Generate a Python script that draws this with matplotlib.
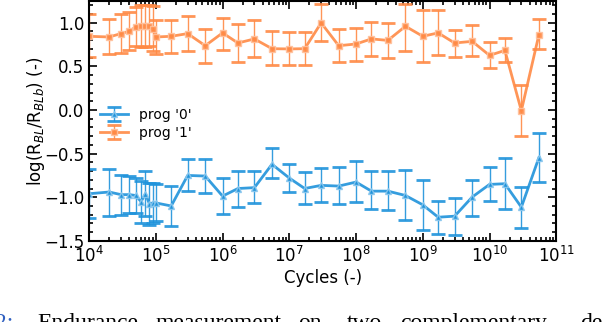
import numpy as np
import matplotlib.pyplot as plt
from matplotlib.ticker import MultipleLocator, LogLocator, NullFormatter

# cycles at which each state was measured
cycles = [1e4, 2e4, 3e4, 4e4, 5e4, 6e4, 7e4, 8e4, 9e4, 1e5,
          1.7e5, 3e5, 5.5e5, 1e6, 1.7e6, 3e6, 5.5e6, 1e7, 1.7e7, 3e7,
          5.5e7, 1e8, 1.7e8, 3e8, 5.5e8, 1e9, 1.7e9, 3e9, 5.5e9, 1e10,
          1.7e10, 3e10, 5.5e10]

# prog '0'
prog0 = [-0.96, -0.94, -0.97, -0.97, -0.98, -1.05, -0.96, -1.075, -1.065, -1.065,
         -1.10, -0.75, -0.757, -0.987, -0.90, -0.89, -0.622, -0.78, -0.90, -0.864,
         -0.872, -0.826, -0.93, -0.93, -0.98, -1.087, -1.229, -1.217, -0.998, -0.853,
         -0.845, -1.114, -0.545]
prog0_hi = [0.28, 0.26, 0.22, 0.21, 0.205, 0.24, 0.26, 0.235, 0.225, 0.22,
            0.23, 0.185, 0.20, 0.21, 0.20, 0.19, 0.19, 0.16, 0.19, 0.20,
            0.22, 0.24, 0.23, 0.23, 0.29, 0.29, 0.19, 0.21, 0.20, 0.20,
            0.30, 0.23, 0.28]
prog0_lo = [0.28, 0.27, 0.23, 0.21, 0.20, 0.24, 0.26, 0.245, 0.225, 0.21,
            0.225, 0.18, 0.19, 0.21, 0.21, 0.18, 0.16, 0.16, 0.175, 0.19,
            0.21, 0.23, 0.21, 0.22, 0.28, 0.29, 0.19, 0.22, 0.22, 0.19,
            0.285, 0.235, 0.28]

# prog '1'
prog1 = [0.845, 0.837, 0.876, 0.902, 0.953, 0.96, 0.968, 0.96, 0.93, 0.837,
         0.845, 0.876, 0.737, 0.884, 0.768, 0.815, 0.703, 0.70, 0.703, 0.999,
         0.737, 0.757, 0.815, 0.798, 0.96, 0.845, 0.884, 0.768, 0.787, 0.626,
         0.683, -0.008, 0.864]
prog1_hi = [0.25, 0.21, 0.22, 0.22, 0.23, 0.24, 0.24, 0.24, 0.26, 0.20,
            0.185, 0.20, 0.19, 0.165, 0.22, 0.22, 0.20, 0.195, 0.19, 0.22,
            0.19, 0.18, 0.195, 0.20, 0.26, 0.30, 0.26, 0.15, 0.19, 0.15,
            0.14, 0.29, 0.18]
prog1_lo = [0.235, 0.20, 0.22, 0.21, 0.22, 0.24, 0.25, 0.23, 0.25, 0.20,
            0.19, 0.205, 0.20, 0.195, 0.22, 0.21, 0.185, 0.18, 0.185, 0.21,
            0.19, 0.19, 0.20, 0.20, 0.28, 0.30, 0.25, 0.155, 0.17, 0.145,
            0.13, 0.29, 0.17]

blue = '#1f93db'
orange = '#ff8a45'

fig = plt.figure(figsize=(6.02, 3.22), dpi=100)
ax = fig.add_axes([0.148, 0.252, 0.776, 0.745])

ax.errorbar(cycles, prog0, yerr=[prog0_lo, prog0_hi], fmt='-^', color=blue,
            ms=4, mec='#8cc8ee', lw=2, elinewidth=1, capsize=5, capthick=2,
            alpha=0.9, label="prog '0'")
ax.errorbar(cycles, prog1, yerr=[prog1_lo, prog1_hi], fmt='-s', color=orange,
            ms=5, mec='#ffc29e', lw=2, elinewidth=1, capsize=5, capthick=2,
            alpha=0.9, label="prog '1'")

ax.set_xscale('log')
ax.set_xlim(1e4, 1e11)
ax.set_ylim(-1.5, 1.25)
ax.yaxis.set_major_locator(MultipleLocator(0.5))
ax.yaxis.set_minor_locator(MultipleLocator(0.1))
ax.xaxis.set_major_locator(LogLocator(base=10, numticks=12))
ax.xaxis.set_minor_locator(LogLocator(base=10, subs=np.arange(2, 10), numticks=12))
ax.xaxis.set_minor_formatter(NullFormatter())

ax.tick_params(which='both', direction='in', top=True, right=True, labelsize=12, width=1.2)
ax.tick_params(which='major', length=6)
ax.tick_params(which='minor', length=3)
for s in ax.spines.values():
    s.set_linewidth(1.5)

ax.set_xlabel('Cycles (-)', fontsize=12, labelpad=2)
ax.set_ylabel(r'log(R$_{BL}$/R$_{BLb}$) (-)', fontsize=12, labelpad=-2)

ax.legend(loc='upper left', bbox_to_anchor=(0.0, 0.60), frameon=False, fontsize=10,
          handlelength=2.0, handletextpad=0.8, borderaxespad=0.4, labelspacing=0.3)

# caption fragment below the figure (cut off by the image edge)
fig.text(-0.008, -0.022, '2:', color='#3060c0', fontsize=17, family='Liberation Serif')
words = ['Endurance', 'measurement', 'on', 'two', 'complementary', 'dev']
word_x = [37, 156, 298, 347, 400, 580]
for w, xp in zip(words, word_x):
    fig.text(xp / 602, -0.022, w, fontsize=17, family='Liberation Serif')

fig.savefig('out.png', dpi=100)
